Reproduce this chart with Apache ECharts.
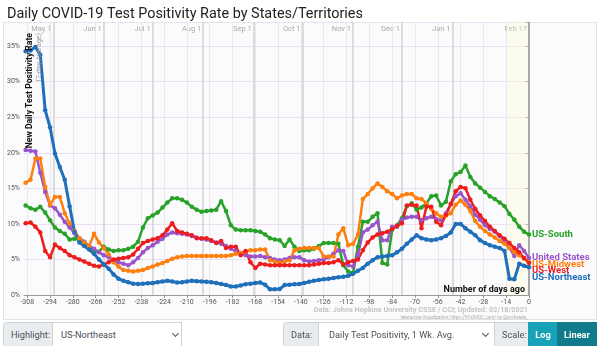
<!DOCTYPE html>
<html><head><meta charset="utf-8">
<script src="https://cdn.jsdelivr.net/npm/echarts@6/dist/echarts.min.js"></script>
<style>
body{margin:0;width:600px;height:346px;overflow:hidden;background:#fff;font-family:Roboto,sans-serif;position:relative}
#frame{position:absolute;left:3px;top:22px;width:594px;height:298px;border:1px solid #e4e4e4;background:#fbfbfd;box-sizing:border-box}
#chart{position:absolute;left:0;top:0;width:600px;height:346px}
.ctl{position:absolute;top:322px;height:25px;box-sizing:border-box;border:1px solid #ced4da;font-size:9.2px;line-height:23px;color:#495057;padding-left:7px;white-space:nowrap;overflow:hidden}
.add{background:#e9ecef}
.sel{background:#fff}
.chev{position:absolute;top:8px;width:4px;height:4px;border-right:1.3px solid #555;border-bottom:1.3px solid #555;transform:rotate(45deg)}
.btn{color:#fff;font-weight:bold;text-align:center;padding-left:0}
</style></head>
<body>
<div id="frame"></div>
<div id="chart"></div>
<div class="ctl add" style="left:3px;width:50px;border-radius:3px 0 0 3px">Highlight:</div>
<div class="ctl sel" style="left:52px;width:130px;padding-left:8px">US-Northeast<span class="chev" style="left:120px"></span></div>
<div class="ctl add" style="left:283px;width:36px;border-radius:3px 0 0 3px">Data:</div>
<div class="ctl sel" style="left:318px;width:177px;padding-left:10px">Daily Test Positivity, 1 Wk. Avg.<span class="chev" style="left:164px"></span></div>
<div class="ctl add" style="left:494px;width:35px">Scale:</div>
<div class="ctl btn" style="left:528px;width:30px;background:#17a2b8;border-color:#17a2b8">Log</div>
<div class="ctl btn" style="left:557px;width:40px;background:#117a8b;border-color:#117a8b">Linear</div>
<script>
// one reading every 3 days, days before Feb 17, 2021
const days = [];
for (let d = -309; d <= 0; d += 3) days.push(d);

const tickDays = [-308,-294,-280,-266,-252,-238,-224,-210,-196,-182,-168,-154,-140,-126,-112,-98,-84,-70,-56,-42,-28,-14,0];
const monthDays = [-292,-261,-231,-200,-169,-139,-108,-78,-47,0];
const monthNames = ['May 1','Jun 1','Jul 1','Aug 1','Sep 1','Oct 1','Nov 1','Dec 1','Jan 1','Feb 17'];
const yTicks = [0,5,10,15,20,25,30,35];

const usNortheast = [
34.3,34.4,34.9,33.8,26.0,23.6,19.9,18.0,16.2,12.5,8.9,7.4,6.9,
6.4,5.8,5.0,4.3,3.7,2.9,2.3,2.0,1.8,1.6,1.55,1.6,1.65,
1.7,1.8,1.9,2.0,1.9,1.75,1.8,1.9,2.0,1.95,1.9,1.85,1.8,
1.7,1.55,1.4,1.2,1.2,1.35,1.5,1.6,1.7,1.75,1.45,0.8,0.8,
0.85,1.4,1.45,1.5,1.55,1.7,1.85,2.0,2.1,2.2,2.3,2.4,2.5,
2.55,2.7,3.0,3.4,3.8,4.4,4.9,5.3,5.4,5.5,5.6,6.0,6.5,
7.2,7.8,8.4,8.0,7.8,7.7,7.8,8.0,8.3,8.8,10.0,10.0,9.4,
8.9,8.4,7.7,7.3,7.0,6.8,6.6,6.2,2.3,2.2,4.4,4.1,3.9];

const unitedStates = [
20.4,20.3,20.2,17.2,14.5,12.6,12.2,11.3,10.3,9.5,8.7,8.0,7.5,
6.9,6.5,6.0,5.6,5.3,4.9,4.6,4.4,4.2,4.6,5.2,6.0,6.6,
7.0,7.5,7.9,8.5,8.8,8.7,8.6,8.5,8.3,8.1,7.9,7.8,7.6,
7.4,7.2,6.9,6.5,6.2,5.9,5.6,5.4,5.4,5.5,5.3,5.2,5.0,
4.9,5.0,5.2,5.3,5.3,4.9,4.7,4.8,4.9,5.0,5.3,5.8,6.3,
6.2,4.2,4.0,5.6,8.8,9.2,9.8,10.3,7.7,7.7,9.6,9.6,10.6,
10.9,11.0,11.0,10.5,10.8,11.0,10.7,10.5,11.5,12.8,13.9,14.3,13.4,
12.5,11.3,10.6,9.8,9.3,8.9,8.3,7.6,6.6,5.5,7.0,6.2,5.2];

const usMidwest = [
15.8,16.2,19.2,19.2,15.2,12.7,13.8,13.8,11.5,10.1,9.0,8.0,7.4,
6.9,8.6,7.4,6.6,5.7,4.6,4.0,3.5,3.4,3.3,3.4,3.5,3.8,
4.0,4.3,4.5,4.8,5.1,5.3,5.4,5.5,5.5,5.5,5.5,5.5,5.5,
5.5,5.5,5.5,5.6,5.8,5.9,6.1,6.3,6.3,6.4,6.4,4.9,4.7,
4.5,4.7,4.9,6.3,6.5,6.6,6.6,6.6,6.6,5.4,5.4,5.4,8.5,
9.4,7.0,7.2,8.5,13.5,14.2,15.0,15.7,15.2,14.6,14.2,13.6,14.0,
14.2,14.2,13.6,13.5,12.9,12.1,11.5,11.0,11.2,11.5,12.7,13.3,12.7,
11.8,10.4,9.6,9.0,8.5,8.1,7.6,7.2,6.6,6.0,5.6,5.1,4.6];

const usSouth = [
12.6,12.2,12.0,12.4,11.6,10.5,9.5,9.0,8.6,7.8,7.9,7.8,7.2,
6.8,6.1,6.1,6.8,6.4,6.2,6.3,6.3,6.5,6.8,7.5,9.5,10.8,
11.2,11.6,12.3,13.0,13.6,13.6,13.4,13.0,12.4,12.0,11.7,11.8,11.9,
12.0,13.2,11.8,9.8,9.2,9.1,9.1,9.1,9.0,8.9,8.5,8.0,7.8,
7.7,6.9,7.8,6.8,6.2,6.3,6.3,6.5,6.9,7.3,7.3,7.3,7.2,
4.2,3.3,3.1,6.8,10.3,10.3,11.0,11.5,4.5,4.3,9.2,9.8,10.8,
12.5,12.9,12.0,12.3,12.9,13.9,14.0,12.6,13.1,16.0,17.0,17.3,18.2,
16.6,15.7,15.1,14.5,13.9,13.5,13.0,12.5,11.4,10.6,9.6,8.9,8.5];

const usWest = [
10.1,10.2,9.6,8.8,6.2,5.3,7.1,6.6,6.2,5.6,5.3,5.0,4.7,
4.4,4.1,4.0,4.3,4.6,5.0,5.1,5.2,5.3,5.7,6.5,7.3,7.6,
7.8,8.0,8.4,9.2,10.1,9.0,8.8,8.6,8.4,8.0,8.0,8.0,7.7,
7.3,7.6,6.6,6.8,6.8,5.6,6.2,4.6,3.8,4.4,4.3,4.2,4.2,
4.2,4.2,4.2,4.2,4.2,4.2,4.2,4.3,4.4,4.5,4.5,4.6,4.9,
4.3,4.6,4.8,5.0,6.3,7.4,8.1,8.5,8.7,8.9,9.3,9.7,10.1,
12.6,12.7,12.6,9.4,12.4,12.4,10.3,9.8,11.3,12.8,14.6,15.2,15.0,
13.4,12.1,11.2,10.4,9.6,9.0,8.4,7.9,7.3,6.6,6.0,5.2,4.5];

const FONT = 'Roboto';
function mk(name, values, color, width, dy) {
  return {
    name, type: 'line', z: 10,
    data: days.map((d, i) => [d, values[i]]),
    symbol: 'circle', symbolSize: 4.5, showSymbol: true, showAllSymbol: true,
    itemStyle: { color }, lineStyle: { color, width },
    endLabel: { show: true, formatter: name, color, fontWeight: 'bold', fontSize: 9.5,
      fontFamily: FONT, distance: 3, offset: [0, dy] },
    animation: false, silent: true
  };
}

const chart = echarts.init(document.getElementById('chart'), null, { renderer: 'canvas' });
chart.setOption({
  animation: false,
  title: { text: 'Daily COVID-19 Test Positivity Rate by States/Territories', left: 2, top: 2,
    textStyle: { fontSize: 14.4, fontWeight: 'normal', color: '#222', fontFamily: FONT } },
  grid: { left: 24, right: 71, top: 22, bottom: 51 },
  xAxis: [{
    type: 'value', min: -310, max: 0,
    axisLine: { show: true, lineStyle: { color: '#999' } },
    axisTick: { show: true, length: 3, customValues: tickDays, lineStyle: { color: '#999' } },
    axisLabel: { customValues: tickDays, fontSize: 7, color: '#555', margin: 4, fontFamily: FONT },
    splitLine: { show: false }
  }, {
    type: 'value', min: -310, max: 0, position: 'top',
    axisLine: { show: false }, axisTick: { show: false }, splitLine: { show: false },
    axisLabel: { customValues: monthDays, inside: true, margin: 3, align: 'right',
      padding: [0, 2, 0, 0], fontSize: 7.5, color: '#aaa', fontFamily: FONT,
      formatter: v => monthNames[monthDays.indexOf(v)] || '' }
  }],
  yAxis: {
    type: 'value', min: 0, max: 38.4, interval: 5,
    axisLine: { show: true, lineStyle: { color: '#999' } },
    axisTick: { show: true, length: 3, lineStyle: { color: '#999' } },
    axisLabel: { fontSize: 7, color: '#555', margin: 4, fontFamily: FONT,
      formatter: v => yTicks.includes(v) ? v + '%' : '' },
    splitLine: { lineStyle: { color: '#ecdff2', width: 1 } }
  },
  series: [
    { type: 'line', data: [], z: 1, silent: true,
      markArea: { silent: true, z: 1, itemStyle: { color: 'rgba(255,255,205,0.3)' },
        data: [[{ xAxis: -14 }, { xAxis: 0 }]] },
      markLine: { silent: true, z: 1, symbol: 'none', label: { show: false },
        lineStyle: { color: '#e8e8e8', width: 1, type: 'solid' },
        data: tickDays.map(d => ({ xAxis: d })) } },
    { type: 'line', data: [], z: 2, silent: true,
      markLine: { silent: true, z: 2, symbol: 'none', label: { show: false },
        lineStyle: { color: '#d2d2d2', width: 1.5, type: 'solid' },
        data: monthDays.map(d => ({ xAxis: d, lineStyle: d === 0 ? { color: '#a8a8a8', width: 2 } : {} })) } },
    mk('US-South', usSouth, '#28a228', 2.5, 0),
    mk('United States', unitedStates, '#9a55cc', 2.5, 0),
    mk('US-Midwest', usMidwest, '#ff7f0e', 2.5, 2),
    mk('US-West', usWest, '#ee1c1c', 2.5, 8),
    mk('US-Northeast', usNortheast, '#1f6fba', 3, 10)
  ],
  graphic: [
    { type: 'text', x: 30, y: 33, rotation: Math.PI / 2, z: 100,
      style: { text: 'New Daily Test Positivity Rate', font: 'bold 8.6px Roboto', fill: '#111',
        textAlign: 'right', textVerticalAlign: 'middle' } },
    { type: 'text', x: 39, y: 33, rotation: Math.PI / 2, z: 100,
      style: { text: '(7-day Average)', font: '7px Roboto', fill: '#999',
        textAlign: 'right', textVerticalAlign: 'middle' } },
    { type: 'text', x: 525, y: 290, z: 100,
      style: { text: 'Number of days ago', font: 'bold 9px Roboto', fill: '#111',
        textAlign: 'right', textVerticalAlign: 'middle' } },
    { type: 'text', x: 528, y: 310.5, z: 100,
      style: { text: 'Data: Johns Hopkins University CSSE / CCI; Updated: 02/18/2021', font: 'bold 7.3px Roboto', fill: '#c4c4c4',
        textAlign: 'right', textVerticalAlign: 'middle' } },
    { type: 'text', x: 528, y: 317.5, z: 100,
      style: { text: 'Interactive Visualization: https://91-DIVOC.com/ by @profwade_', font: '4.5px Roboto', fill: '#aaa',
        textAlign: 'right', textVerticalAlign: 'middle' } }
  ]
});
</script>
</body></html>
